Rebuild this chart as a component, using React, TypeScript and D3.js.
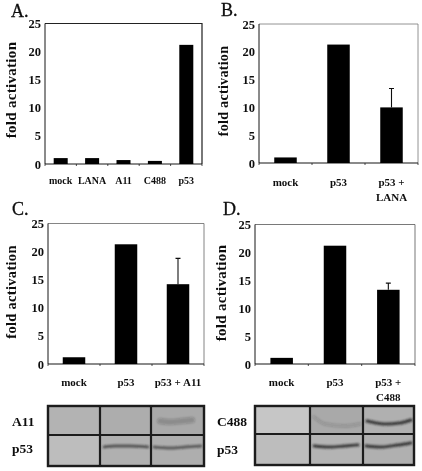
import React from "react";
import * as d3 from "d3";

const yTicks = [0, 5, 10, 15, 20, 25];
const catsA = ["mock", "LANA", "A11", "C488", "p53"];
const valsA = [1.05, 1.05, 0.7, 0.55, 21.2];
const errsA: (number | null)[] = [null, null, null, null, null];
const catsB = ["mock", "p53", "p53 +|LANA"];
const valsB = [1, 21.3, 10];
const errsB = [null, null, 13.4];
const catsC = ["mock", "p53", "p53 + A11"];
const valsC = [1.2, 21.3, 14.2];
const errsC = [null, null, 18.8];
const catsD = ["mock", "p53", "p53 +|C488"];
const valsD = [1.1, 21.2, 13.3];
const errsD = [null, null, 14.5];

const panels = [
  { letter: "A.", lx: 11, ly: 17, x0: 45, x1: 202, top: 23.5, bottom: 164, cats: catsA, vals: valsA, errs: errsA, barW: 14, catFs: 10, catY: 184, titleX: 15.5, titleY: 90, frame: "#222", frameW: 1.2, tickFs: 12.5, titleFs: 15 },
  { letter: "B.", lx: 221, ly: 15.5, x0: 259, x1: 418, top: 24, bottom: 163, cats: catsB, vals: valsB, errs: errsB, barW: 22.5, catFs: 11, catY: 186, titleX: 227.5, titleY: 91, frame: "#777", frameW: 0.8, tickFs: 12.5, titleFs: 14 },
  { letter: "C.", lx: 12, ly: 215, x0: 48, x1: 204, top: 223.5, bottom: 364, cats: catsC, vals: valsC, errs: errsC, barW: 22.5, catFs: 11, catY: 386, titleX: 15.5, titleY: 292, frame: "#666", frameW: 0.8, tickFs: 12.5, titleFs: 14.5 },
  { letter: "D.", lx: 223, ly: 215, x0: 255, x1: 415, top: 224.5, bottom: 364, cats: catsD, vals: valsD, errs: errsD, barW: 22.5, catFs: 11, catY: 386, titleX: 225.5, titleY: 293, frame: "#555", frameW: 0.8, tickFs: 12.5, titleFs: 15 },
];

type Band = { pts: [number, number][]; w: number; o: number };
const blots: { x: number; y: number; w: number; h: number; v: number[]; hz: number; labels: [string, string]; lx: number; ly: [number, number]; fills: string[]; bands: Band[] }[] = [
  {
    x: 48, y: 406, w: 156, h: 60, v: [100, 151], hz: 435, labels: ["A11", "p53"], lx: 12, ly: [426, 453],
    fills: ["#b3b3b3", "#adadad", "#a9a9a9", "#bdbdbd", "#b0b0b0", "#aeaeae"],
    bands: [
      { pts: [[160, 421], [170, 422], [182, 421], [192, 420]], w: 6, o: 0.22 },
      { pts: [[104, 447], [115, 446], [130, 446], [148, 447]], w: 2.5, o: 0.75 },
      { pts: [[154, 447], [170, 448], [185, 447], [201, 446]], w: 2.5, o: 0.7 },
    ],
  },
  {
    x: 255, y: 406, w: 159, h: 59, v: [310, 363], hz: 434, labels: ["C488", "p53"], lx: 217, ly: [426, 454],
    fills: ["#c6c6c6", "#a9a9a9", "#b0b0b0", "#bdbdbd", "#b4b4b4", "#b0b0b0"],
    bands: [
      { pts: [[314, 417], [325, 424], [345, 426], [360, 424]], w: 3.5, o: 0.15 },
      { pts: [[367, 421], [385, 424], [400, 423], [411, 420]], w: 3, o: 0.85 },
      { pts: [[314, 446], [330, 447], [345, 446], [358, 445]], w: 2.8, o: 0.85 },
      { pts: [[366, 446], [382, 447], [398, 445], [411, 443]], w: 2.8, o: 0.85 },
    ],
  },
];

const serif = "'Liberation Serif', serif";
const bandLine = d3.line<[number, number]>().x((d) => d[0]).y((d) => d[1]).curve(d3.curveMonotoneX);

function Panel({ p }: { p: (typeof panels)[number] }) {
  const x = d3.scaleBand<string>().domain(p.cats).range([p.x0, p.x1]);
  const y = d3.scaleLinear().domain([0, 25]).range([p.bottom, p.top]);
  return (
    <g>
      <text x={p.lx} y={p.ly} fontFamily={serif} fontSize={18} stroke="#111" strokeWidth={0.3} fill="#111">{p.letter}</text>
      <path d={`M${p.x0},${p.top}H${p.x1}V${p.bottom}`} fill="none" stroke={p.frame} strokeWidth={p.frameW} />
      <path d={`M${p.x0},${p.top}V${p.bottom}`} fill="none" stroke="#111" strokeWidth={1} />
      <path d={`M${p.x0},${p.bottom}H${p.x1}`} fill="none" stroke="#111" strokeWidth={1.2} />
      {p.cats.map((c, i) => {
        const bx = (x(c) as number) + x.bandwidth() / 2;
        const e = p.errs[i];
        const lines = c.split("|");
        return (
          <g key={c}>
            <rect x={bx - p.barW / 2} width={p.barW} y={y(p.vals[i])} height={p.bottom - y(p.vals[i])} fill="#000" />
            {e != null && (
              <path d={`M${bx},${y(p.vals[i])}V${y(e)}M${bx - 2.5},${y(e)}H${bx + 2.5}`} stroke="#111" strokeWidth={1.1} fill="none" />
            )}
            {lines.map((t, k) => (
              <text key={t} x={bx} y={p.catY + k * 15} textAnchor="middle" fontFamily={serif} fontWeight="bold" fontSize={p.catFs} fill="#111">{t}</text>
            ))}
          </g>
        );
      })}
      {d3.range(p.cats.length + 1).map((i) => {
        const tx = p.x0 + i * x.step();
        return <line key={i} x1={tx} x2={tx} y1={p.bottom} y2={p.bottom + 2} stroke="#222" strokeWidth={0.8} />;
      })}
      {yTicks.map((t) => (
        <text key={t} x={p.x0 - 4} y={y(t) + 4.5} textAnchor="end" fontFamily={serif} fontWeight="bold" fontSize={p.tickFs} fill="#111">{t}</text>
      ))}
      <text transform={`translate(${p.titleX},${p.titleY}) rotate(-90)`} textAnchor="middle" fontFamily={serif} fontWeight="bold" fontSize={p.titleFs} letterSpacing={0.3} fill="#111">fold activation</text>
    </g>
  );
}

function Blot({ b }: { b: (typeof blots)[number] }) {
  const xs = [b.x, ...b.v, b.x + b.w];
  const ys = [b.y, b.hz, b.y + b.h];
  return (
    <g>
      {[0, 1].map((r) =>
        [0, 1, 2].map((c) => (
          <rect key={`${r}${c}`} x={xs[c]} y={ys[r]} width={xs[c + 1] - xs[c]} height={ys[r + 1] - ys[r]} fill={b.fills[r * 3 + c]} />
        ))
      )}
      <g filter="url(#bandBlur)">
        {b.bands.map((d, i) => (
          <path key={i} d={bandLine(d.pts) as string} fill="none" stroke="#222" strokeWidth={d.w} strokeOpacity={d.o} strokeLinecap="round" />
        ))}
      </g>
      <rect x={b.x} y={b.y} width={b.w} height={b.h} fill="none" stroke="#1a1a1a" strokeWidth={2.4} />
      {b.v.map((v) => (
        <line key={v} x1={v} x2={v} y1={b.y} y2={b.y + b.h} stroke="#1a1a1a" strokeWidth={2.2} />
      ))}
      <line x1={b.x} x2={b.x + b.w} y1={b.hz} y2={b.hz} stroke="#1a1a1a" strokeWidth={1.8} />
      {b.labels.map((t, i) => (
        <text key={t} x={b.lx} y={b.ly[i]} fontFamily={serif} fontWeight="bold" fontSize={13.5} fill="#111">{t}</text>
      ))}
    </g>
  );
}

export default function App() {
  return (
    <svg width={422} height={471} style={{ position: "absolute", left: 0, top: 0, background: "#fff" }}>
      <defs>
        <filter id="bandBlur" x="-20%" y="-200%" width="140%" height="500%">
          <feGaussianBlur stdDeviation="1" />
        </filter>
        <filter id="soft"><feGaussianBlur stdDeviation="0.3" /></filter>
      </defs>
      <g filter="url(#soft)">
        {panels.map((p) => <Panel key={p.letter} p={p} />)}
        {blots.map((b) => <Blot key={b.x} b={b} />)}
      </g>
    </svg>
  );
}
